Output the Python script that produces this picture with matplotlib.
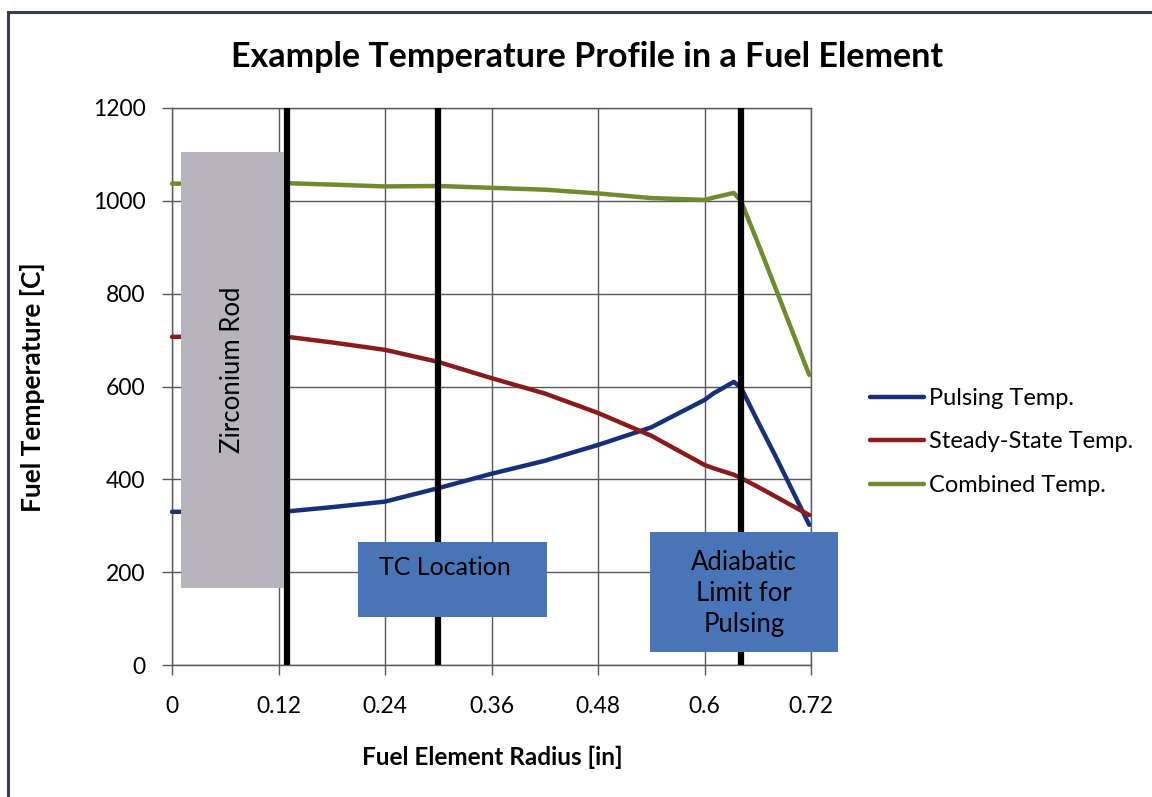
import matplotlib
matplotlib.use("Agg")
import matplotlib.pyplot as plt
from matplotlib.patches import Rectangle

plt.rcParams['font.family'] = ['Lato', 'DejaVu Sans']

# Radial positions across the fuel element [in]
radius = [0.0, 0.13, 0.18, 0.24, 0.30, 0.36, 0.42, 0.48, 0.54, 0.60, 0.61, 0.633, 0.641, 0.66, 0.68, 0.718]

# Temperatures [C]
pulsing = [330, 331, 340, 352, 381, 412, 440, 474, 512, 571, 585, 610, 598, 525, 450, 302]
steady = [707, 707, 695, 679, 653, 618, 585, 543, 494, 431, 424, 410, 403, 384, 363, 323]
combined = [1037, 1038, 1035, 1031, 1032, 1028, 1024, 1016, 1006, 1002, 1007, 1017, 1000, 910, 812, 625]

series_names = ["Pulsing Temp.", "Steady-State Temp.", "Combined Temp."]
series_colors = ["#17307A", "#8B1A1A", "#6E8B2E"]

x_ticks = [0, 0.12, 0.24, 0.36, 0.48, 0.6, 0.72]
x_tick_labels = ["0", "0.12", "0.24", "0.36", "0.48", "0.6", "0.72"]
y_ticks = [0, 200, 400, 600, 800, 1000, 1200]

# Marker lines: rod edge, thermocouple, adiabatic limit
marker_radii = [0.13, 0.30, 0.641]

W, H = 1152, 797
fig = plt.figure(figsize=(W / 100, H / 100), dpi=100)
fig.patch.set_facecolor("white")

# outer chart frame
fig.patches.append(Rectangle((8 / W, -0.05), 1.2, (H - 12) / H + 0.05,
                             transform=fig.transFigure, fill=False,
                             edgecolor="#3A3D4A", linewidth=2.2, zorder=0))

ax = fig.add_axes([172 / W, (H - 665) / H, 639 / W, 557 / H])
ax.set_xlim(0, 0.72)
ax.set_ylim(0, 1200)
ax.set_xticks(x_ticks)
ax.set_xticklabels(x_tick_labels)
ax.set_yticks(y_ticks)

grid_color = "#55585F"
ax.grid(True, color=grid_color, linewidth=1.0, zorder=0)
for s in ax.spines.values():
    s.set_color(grid_color)
    s.set_linewidth(1.0)
ax.tick_params(direction="out", length=7, width=1.0, color=grid_color,
               labelsize=16.5)
ax.tick_params(axis="y", pad=12)
ax.tick_params(axis="x", pad=15)

handles = []
for vals, name, col in zip([pulsing, steady, combined], series_names, series_colors):
    h, = ax.plot(radius, vals, color=col, linewidth=3.2, label=name,
                 solid_capstyle="round", solid_joinstyle="round", zorder=3, clip_on=False)
    handles.append(h)

for r in marker_radii:
    ax.axvline(r, color="black", linewidth=4.5, zorder=4)

# Zirconium rod region
ax.add_patch(Rectangle((0.0102, 166), 0.1162, 940, facecolor="#B8B4BE",
                       edgecolor="none", zorder=5))
ax.text(0.068, 636, "Zirconium Rod", rotation=90, ha="center", va="center",
        fontsize=18.5, zorder=6)

# Thermocouple location
ax.add_patch(Rectangle((0.210, 103), 0.212, 162, facecolor="#4A74B8",
                       edgecolor="none", zorder=5))
ax.text(0.307, 210, "TC Location", ha="center", va="center", fontsize=18, zorder=6)

# Adiabatic limit
ax.add_patch(Rectangle((0.5385, 28), 0.2122, 259, facecolor="#4A74B8",
                       edgecolor="none", zorder=5, clip_on=False))
ax.text(0.6446, 153, "Adiabatic\nLimit for\nPulsing", ha="center", va="center",
        fontsize=18.5, linespacing=1.3, zorder=6)

fig.text(492 / W, 1 - 757 / H, "Fuel Element Radius [in]", ha="center", va="center",
         fontsize=17.5, fontweight="bold")
fig.text(33 / W, 1 - 387 / H, "Fuel Temperature [C]", ha="center", va="center",
         rotation=90, fontsize=19, fontweight="bold")
fig.text(587 / W, 1 - 57 / H, "Example Temperature Profile in a Fuel Element",
         ha="center", va="center", fontsize=24.5, fontweight="bold")

fig.legend(handles=handles, loc="center left", bbox_to_anchor=(870 / W, 1 - 442 / H),
           frameon=False, fontsize=17, handlelength=2.3, handletextpad=0.2,
           labelspacing=0.95, borderaxespad=0, borderpad=0)

fig.savefig("out.png", dpi=100, facecolor="white")
